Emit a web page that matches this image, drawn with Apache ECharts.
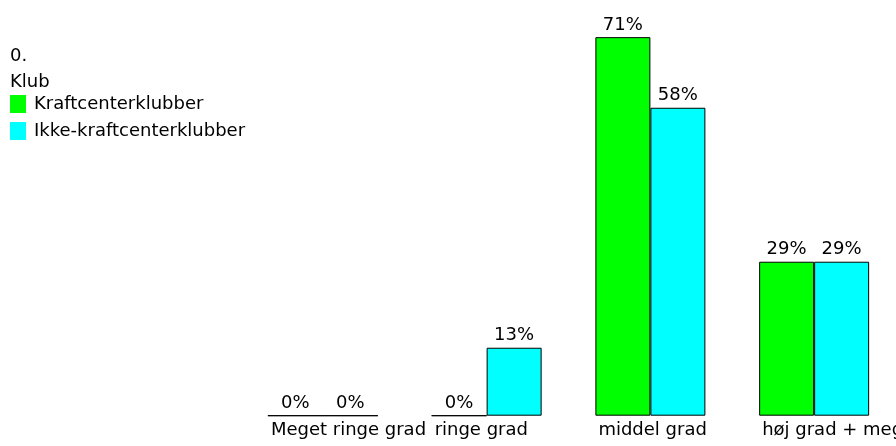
<!DOCTYPE html>
<html>
<head>
<meta charset="utf-8">
<script src="https://cdn.jsdelivr.net/npm/echarts@6/dist/echarts.min.js"></script>
<style>
  html, body { margin: 0; padding: 0; background: #fff; }
  #chart { width: 896px; height: 446px; }
</style>
</head>
<body>
<div id="chart"></div>
<script>
// kategorier og værdier (procent)
let categories = ['Meget ringe grad', 'ringe grad', 'middel grad', 'høj grad + meget høj grad']
let kraftcenter = [0, 0, 71.3, 29]
let ikkeKraftcenter = [0, 12.8, 58, 29]
let seriesNames = ['Kraftcenterklubber', 'Ikke-kraftcenterklubber']

let myChart = echarts.init(document.getElementById('chart'));

let labelOpt = {
    show: true,
    position: 'top',
    distance: 3,
    color: '#000',
    fontSize: 18,
    formatter: function (p) {
        return Math.round(p.value) + '%'
    }
}

let option = {
    animation: false,
    textStyle: {fontFamily: 'DejaVu Sans'},
    title: {
        text: '0.\nKlub',
        left: 10,
        top: 43,
        padding: 0,
        textStyle: {
            fontSize: 18,
            fontWeight: 'normal',
            color: '#000',
            lineHeight: 26
        }
    },
    legend: {
        orient: 'vertical',
        left: 10,
        top: 95,
        padding: 0,
        icon: 'rect',
        itemWidth: 16,
        itemHeight: 18,
        itemGap: 9,
        itemStyle: {borderWidth: 0},
        textStyle: {fontSize: 18, color: '#000', padding: [0, 0, 0, 3]},
        data: seriesNames
    },
    grid: {
        left: 241, right: 0, top: 17.5, bottom: 30.3,
        containLabel: false,
        outerBoundsMode: 'none'
    },
    xAxis: {
        type: 'category',
        data: categories,
        axisLine: {show: false},
        axisTick: {show: false},
        axisLabel: {
            interval: 0,
            align: 'left',
            margin: 6,
            fontSize: 18,
            color: '#000',
            padding: [0, 0, 0, -52]
        }
    },
    yAxis: {
        type: 'value',
        min: 0,
        max: 75,
        show: false,
        splitLine: {show: false}
    },
    series: [
        {
            name: seriesNames[0],
            type: 'bar',
            data: kraftcenter,
            barWidth: 55,
            barGap: '0%',
            itemStyle: {color: '#00ff00', borderColor: '#000', borderWidth: 1},
            label: labelOpt
        },
        {
            name: seriesNames[1],
            type: 'bar',
            data: ikkeKraftcenter,
            barWidth: 55,
            barGap: '0%',
            itemStyle: {color: '#00ffff', borderColor: '#000', borderWidth: 1},
            label: labelOpt
        }
    ]
};
myChart.setOption(option);
</script>
</body>
</html>
